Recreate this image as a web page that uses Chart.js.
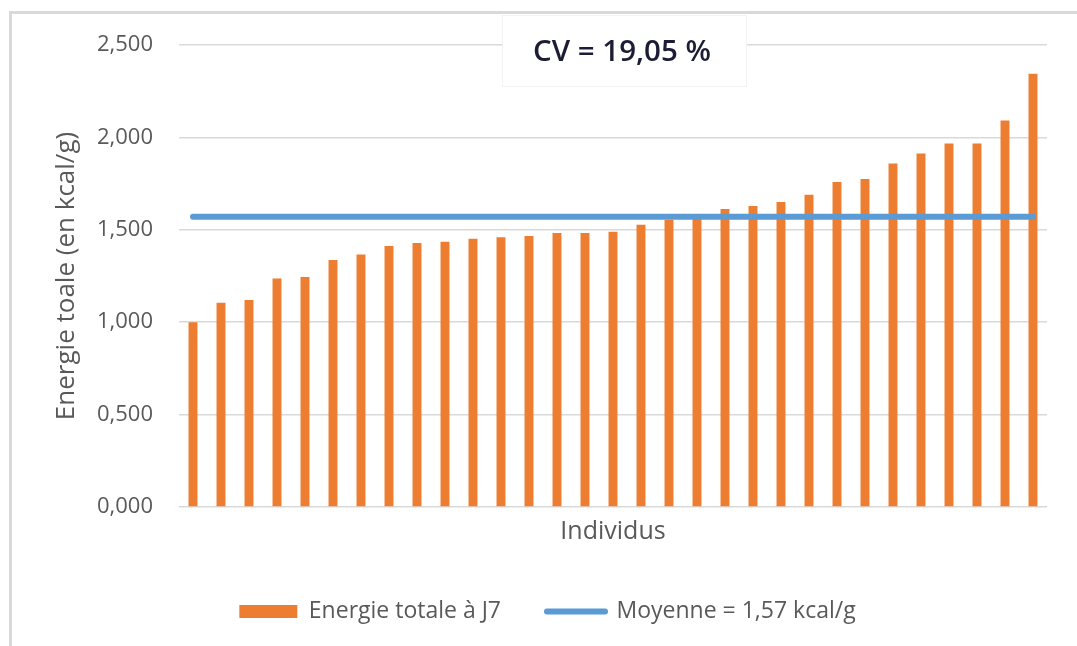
<!DOCTYPE html>
<html>
<head>
<meta charset="utf-8">
<script src="https://cdn.jsdelivr.net/npm/chart.js@4"></script>
<style>
  html, body { margin: 0; padding: 0; background: #fff; }
  canvas { display: block; }
</style>
</head>
<body>
<canvas id="graphique" width="1077" height="646"></canvas>
<script>
// individus (classés par énergie croissante)
const individus = ['1','2','3','4','5','6','7','8','9','10','11','12','13','14','15','16',
                   '17','18','19','20','21','22','23','24','25','26','27','28','29','30','31']
// énergie totale à J7, en kcal/g
const energieJ7 = [1.000, 1.105, 1.120, 1.236, 1.245, 1.337, 1.366, 1.413, 1.429, 1.436,
                   1.452, 1.460, 1.467, 1.483, 1.483, 1.490, 1.528, 1.555, 1.560, 1.613,
                   1.629, 1.650, 1.690, 1.759, 1.775, 1.859, 1.913, 1.967, 1.967, 2.091, 2.345]
const moyenne = 1.57
const nomsSeries = ['Energie totale à J7', 'Moyenne = 1,57 kcal/g']
const cvTexte = 'CV = 19,05 %'
const orange = '#ed7d31'
const bleu = '#5b9bd5'
const gris = '#595959'

Chart.defaults.font.family = '"Open Sans", sans-serif'

// cadre gris + encadré du CV
const cadre = {
  id: 'cadre',
  beforeDraw(chart) {
    const ctx = chart.ctx
    ctx.save()
    ctx.fillStyle = '#fff'
    ctx.fillRect(0, 0, chart.width, chart.height)
    ctx.strokeStyle = '#d9d9d9'
    ctx.lineWidth = 3
    ctx.beginPath()
    ctx.moveTo(10.5, chart.height)
    ctx.lineTo(10.5, 12.5)
    ctx.lineTo(chart.width, 12.5)
    ctx.stroke()
    ctx.restore()
  },
  afterDraw(chart) {
    const ctx = chart.ctx
    ctx.save()
    ctx.fillStyle = '#fff'
    ctx.fillRect(502, 15, 245, 72)
    ctx.strokeStyle = '#f3f3f3'
    ctx.lineWidth = 1
    ctx.strokeRect(502.5, 15.5, 244, 71)
    ctx.font = '600 29.5px "Open Sans"'
    ctx.fillStyle = '#1c1c35'
    ctx.textAlign = 'center'
    ctx.textBaseline = 'middle'
    ctx.fillText(cvTexte, 622, 53)
    ctx.restore()
  }
}

const chart = new Chart(document.getElementById('graphique'), {
  type: 'bar',
  data: {
    labels: individus,
    datasets: [
      {
        label: nomsSeries[0],
        data: energieJ7,
        backgroundColor: orange,
        barPercentage: 0.32,
        categoryPercentage: 1,
        order: 1
      },
      {
        type: 'line',
        label: nomsSeries[1],
        data: individus.map(() => moyenne),
        borderColor: bleu,
        borderWidth: 6,
        borderCapStyle: 'round',
        pointRadius: 0,
        fill: false,
        order: 0
      }
    ]
  },
  options: {
    responsive: false,
    animation: false,
    layout: { padding: { top: 45, left: 48, right: 30, bottom: 13 } },
    plugins: {
      tooltip: { enabled: false },
      legend: {
        position: 'bottom',
        labels: {
          usePointStyle: true,
          pointStyleWidth: 58,
          boxHeight: 13,
          padding: 46,
          color: gris,
          font: { size: 23 },
          generateLabels: () => [
            { text: nomsSeries[0], fillStyle: orange, strokeStyle: orange, lineWidth: 0,
              pointStyle: 'rect', fontColor: gris, datasetIndex: 0, hidden: false },
            { text: nomsSeries[1], fillStyle: bleu, strokeStyle: bleu, lineWidth: 6, lineCap: 'round',
              pointStyle: 'line', fontColor: gris, datasetIndex: 1, hidden: false }
          ]
        }
      }
    },
    scales: {
      x: {
        afterFit: (s) => { s.height = 47 },
        grid: { display: false },
        border: { display: false },
        ticks: { display: false },
        title: {
          display: true,
          text: 'Individus',
          color: gris,
          font: { size: 25 },
          padding: { top: 0, bottom: 7 }
        }
      },
      y: {
        min: 0,
        max: 2.5,
        afterFit: (s) => { s.width = 131 },
        grid: { color: '#d9d9d9', lineWidth: 1.5, drawTicks: false },
        border: { display: false },
        ticks: {
          stepSize: 0.5,
          padding: 26,
          color: gris,
          font: { size: 22 },
          callback: (v) => v.toFixed(3).replace('.', ',')
        },
        title: {
          display: true,
          text: 'Energie toale (en kcal/g)',
          color: gris,
          font: { size: 26 },
          padding: { top: 3.4, bottom: 0 }
        }
      }
    }
  },
  plugins: [cadre]
})
</script>
</body>
</html>
